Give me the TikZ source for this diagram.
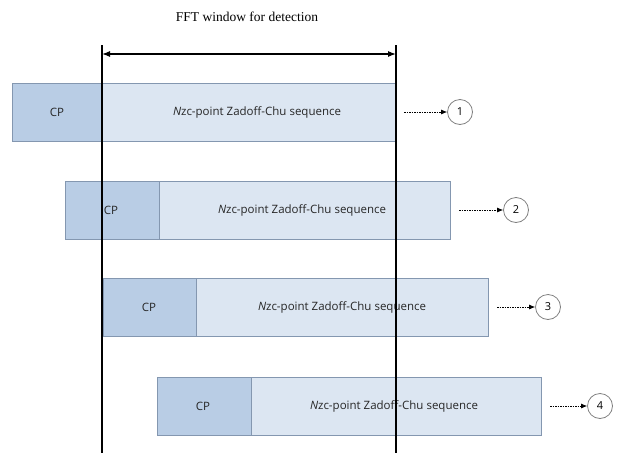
\documentclass[tikz,border=0pt]{standalone}
\usepackage{fontspec}
\setmainfont{Liberation Serif}
\newfontfamily\boxfont{Open Sans}
\usetikzlibrary{arrows.meta}
\definecolor{cpfill}{HTML}{B9CDE5}
\definecolor{seqfill}{HTML}{DCE6F2}
\definecolor{boxline}{HTML}{8497B0}
\definecolor{circline}{HTML}{808080}
\begin{document}
\begin{tikzpicture}[x=1pt,y=-1pt,
  cpbox/.style={draw=boxline,fill=cpfill,line width=0.8pt},
  seqbox/.style={draw=boxline,fill=seqfill,line width=0.8pt},
  lbl/.style={font=\boxfont\fontsize{11.5}{13}\selectfont,text=black!85},
  numcirc/.style={circle,draw=circline,line width=0.8pt,minimum size=25pt,inner sep=0pt,font=\boxfont\fontsize{11}{13}\selectfont,fill=white},
  winline/.style={line width=1.5pt,black},
  darr/.style={dash pattern=on 1.5pt off 1pt,line width=0.7pt,-{Latex[length=6pt,width=5pt]}}
]
\useasboundingbox (0,0) rectangle (626,453);
\node[font=\fontsize{13.5}{15}\selectfont] (title) at (247,17) {FFT window for detection};
% boxes: left, cp right, right, top
\foreach \i/\l/\c/\r/\t/\cpx/\sx in {1/12/102/395/83/57/257, 2/65/159/450/181/111/302, 3/103/196/488/278/149/342, 4/157/251/541/377/203/394}{
  \path[cpbox] (\l,\t) rectangle (\c,\t+58);
  \path[seqbox] (\c,\t) rectangle (\r,\t+58);
  \node[lbl] (cp\i) at (\cpx,\t+29) {CP};
  \node[lbl] (seq\i) at (\sx,\t+29) {\textit{N}zc-point Zadoff-Chu sequence};
  \coordinate (e\i) at (\r+9,\t+29);
}
\node[numcirc] (n1) at (460,112) {1};
\node[numcirc] (n2) at (516,210) {2};
\node[numcirc] (n3) at (548,307) {3};
\node[numcirc] (n4) at (600,406) {4};
\foreach \i in {1,2,3,4}{\draw[darr] (e\i) -- (n\i.west);}
% window lines
\coordinate (lt) at (102,45);
\coordinate (lb) at (102,453);
\coordinate (rt) at (396,45);
\coordinate (rb) at (396,453);
\draw[winline] (lt) -- (lb);
\draw[winline] (rt) -- (rb);
\coordinate (al) at (102,54);
\coordinate (ar) at (396,54);
\draw[line width=1.2pt,{Latex[length=8pt,width=6pt]}-{Latex[length=8pt,width=6pt]}] (al) -- (ar);
\end{tikzpicture}
\end{document}
